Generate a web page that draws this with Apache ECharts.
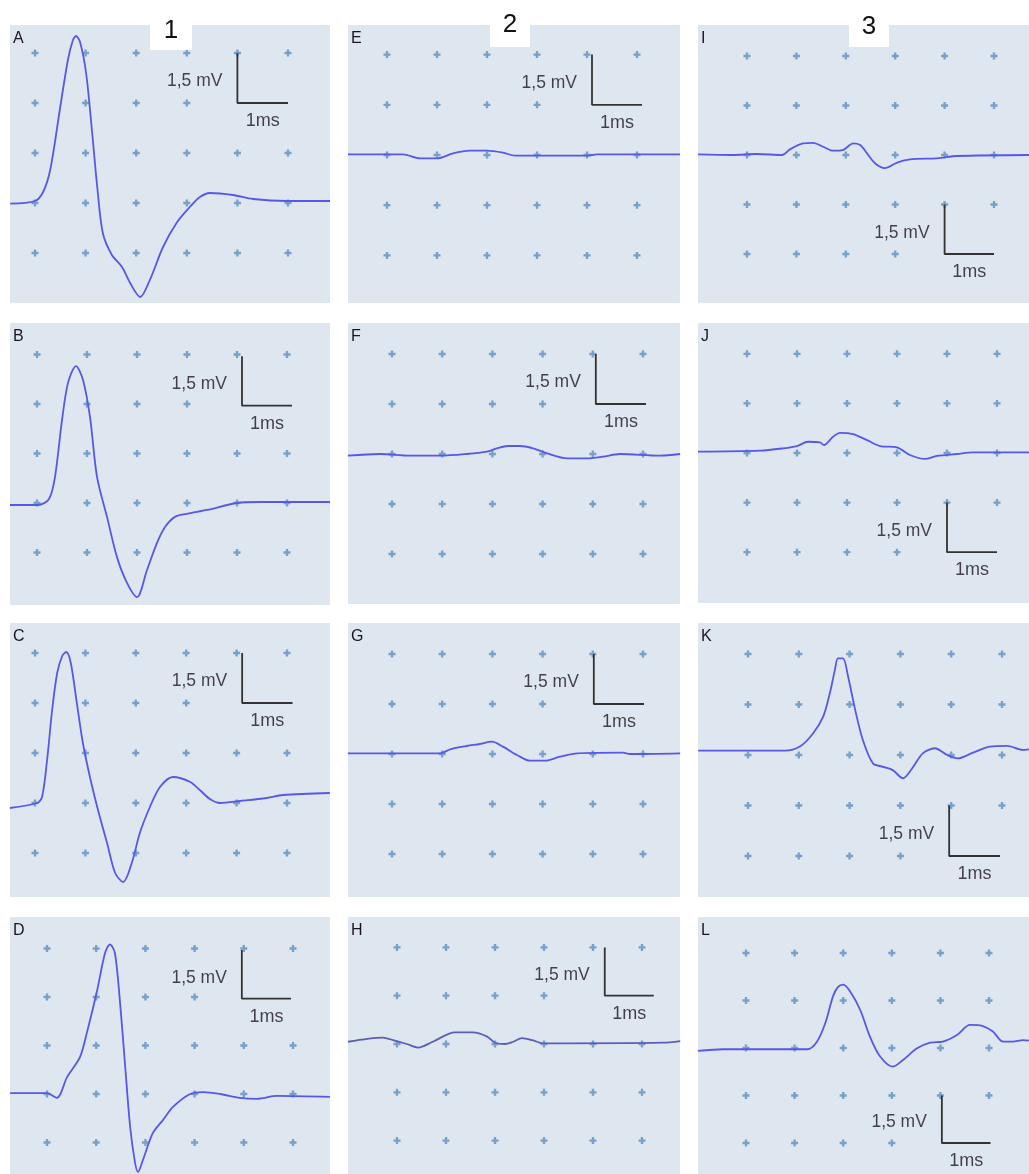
<!DOCTYPE html>
<html><head><meta charset="utf-8">
<script src="https://cdn.jsdelivr.net/npm/echarts@6/dist/echarts.min.js"></script>
<style>html,body{margin:0;padding:0;background:#fff;}#c{width:1029px;height:1174px;}</style>
</head><body><div id="c"></div>
<script>
// ---- data: time (ms) , potential (mV) ----
const traceA = [[0.51,-0.02],[1.0,0.06],[1.16,0.33],[1.30,0.99],[1.49,2.79],[1.65,4.29],[1.75,4.89],[1.81,5.01],[1.89,4.83],[2.01,3.90],[2.13,2.10],[2.23,0.48],[2.34,-0.90],[2.52,-1.56],[2.72,-1.92],[2.88,-2.40],[3.08,-2.82],[3.27,-2.31],[3.53,-1.32],[3.81,-0.57],[4.06,-0.12],[4.26,0.18],[4.46,0.30],[4.91,0.24],[5.31,0.12],[5.98,0.06],[6.83,0.06]];
const traceB = [[0.46,-0.06],[1.02,-0.06],[1.24,0.12],[1.36,0.79],[1.50,2.51],[1.62,3.64],[1.78,4.15],[1.92,3.73],[2.06,2.61],[2.20,0.79],[2.40,-0.42],[2.60,-1.64],[2.80,-2.42],[3.00,-2.85],[3.20,-2.03],[3.40,-1.21],[3.56,-0.73],[3.76,-0.42],[4.00,-0.33],[4.40,-0.21],[5.00,0.00],[5.46,0.03],[6.86,0.03]];
const traceC = [[0.50,-0.15],[1.04,0.00],[1.14,0.18],[1.24,1.29],[1.34,2.79],[1.44,3.90],[1.54,4.41],[1.62,4.53],[1.71,4.20],[1.83,3.00],[1.95,1.80],[2.09,0.78],[2.25,-0.21],[2.43,-1.20],[2.59,-2.10],[2.75,-2.37],[2.92,-1.80],[3.08,-0.90],[3.28,-0.12],[3.48,0.48],[3.74,0.78],[4.08,0.63],[4.27,0.39],[4.47,0.12],[4.67,0.00],[5.07,0.06],[5.60,0.15],[5.92,0.24],[6.85,0.30]];
const traceD = [[0.25,0.03],[1.00,0.03],[1.20,-0.12],[1.41,0.53],[1.67,1.14],[1.81,1.89],[2.02,3.21],[2.18,4.36],[2.28,4.63],[2.38,4.36],[2.48,2.91],[2.59,0.84],[2.69,-1.02],[2.79,-2.13],[2.85,-2.41],[2.95,-2.04],[3.15,-1.21],[3.36,-0.80],[3.56,-0.40],[3.91,0.00],[4.17,0.06],[4.52,0.00],[4.92,-0.12],[5.27,-0.15],[5.67,-0.06],[6.75,-0.09]];
const traceE = [[0.22,0.02],[1.32,0.02],[1.66,-0.10],[2.00,-0.10],[2.32,0.05],[2.66,0.13],[3.00,0.13],[3.32,0.07],[3.56,-0.02],[5.00,-0.02],[5.20,0.02],[6.86,0.02]];
const traceF = [[0.12,-0.05],[0.76,0.00],[1.36,-0.05],[1.96,-0.05],[2.49,0.00],[2.89,0.07],[3.09,0.17],[3.31,0.24],[3.55,0.24],[3.81,0.17],[4.09,0.02],[4.49,-0.13],[4.88,-0.13],[5.20,-0.08],[5.54,0.00],[6.34,-0.05],[6.74,0.00]];
const traceG = [[0.12,0.02],[1.96,0.02],[2.16,0.14],[2.49,0.24],[2.75,0.30],[2.99,0.37],[3.21,0.22],[3.49,-0.03],[3.75,-0.20],[4.05,-0.20],[4.35,-0.08],[4.69,0.02],[5.60,0.04],[5.74,0.00],[6.74,0.02]];
const traceH = [[0.00,0.07],[0.71,0.20],[0.92,0.12],[1.20,0.00],[1.43,-0.11],[1.73,0.07],[2.18,0.36],[2.55,0.36],[2.84,0.23],[3.00,0.04],[3.20,0.00],[3.37,0.07],[3.55,0.18],[3.76,0.12],[3.98,0.02],[6.43,0.04],[6.78,0.09]];
const traceI = [[0.01,0.02],[0.70,0.00],[1.20,0.03],[1.71,0.00],[1.87,0.17],[2.13,0.35],[2.34,0.37],[2.54,0.25],[2.74,0.13],[2.94,0.15],[3.15,0.35],[3.29,0.30],[3.43,0.05],[3.59,-0.25],[3.79,-0.40],[4.04,-0.23],[4.30,-0.13],[4.85,-0.10],[5.25,-0.03],[6.71,0.00]];
const traceJ = [[0.02,0.04],[1.26,0.07],[1.72,0.14],[2.00,0.21],[2.22,0.34],[2.46,0.32],[2.54,0.24],[2.72,0.49],[2.86,0.61],[3.12,0.57],[3.40,0.39],[3.66,0.21],[4.00,0.17],[4.26,-0.06],[4.56,-0.18],[4.80,-0.09],[5.20,-0.03],[5.52,0.02],[6.64,0.02]];
const traceK = [[0.02,0.13],[1.73,0.13],[2.02,0.25],[2.28,0.64],[2.48,1.14],[2.61,1.83],[2.71,2.52],[2.77,2.87],[2.87,2.87],[2.97,2.33],[3.11,1.34],[3.26,0.45],[3.46,-0.25],[3.66,-0.35],[3.85,-0.45],[4.05,-0.69],[4.23,-0.40],[4.44,0.05],[4.68,0.20],[4.92,0.00],[5.13,-0.10],[5.43,0.07],[5.76,0.25],[6.10,0.27],[6.41,0.15],[6.53,0.17]];
const traceL = [[0.01,-0.09],[0.53,-0.04],[2.26,-0.04],[2.46,0.20],[2.63,0.78],[2.79,1.63],[2.89,1.92],[3.00,2.00],[3.14,1.79],[3.35,1.20],[3.55,0.36],[3.76,-0.27],[4.02,-0.59],[4.23,-0.38],[4.52,-0.01],[4.79,0.17],[5.05,0.20],[5.34,0.41],[5.61,0.73],[5.86,0.70],[6.08,0.52],[6.29,0.20],[6.49,0.20],[6.70,0.25],[6.82,0.23]];

const panelLetters = ['A','B','C','D','E','F','G','H','I','J','K','L'];
const columnHeaders = ['1','2','3'];
const scaleBarMV = 1.5;      // vertical bar, mV
const scaleBarMS = 1;        // horizontal bar, ms
const scaleLabelV = '1,5 mV';
const scaleLabelT = '1ms';
const traces = [traceA,traceB,traceC,traceD,traceE,traceF,traceG,traceH,traceI,traceJ,traceK,traceL];

// ---- layout (pixels) ----
const layout = [
  {rect:[10,25,320,278],  cx:35,  sx:50.6, by:203,  sy:50,   bar:[5.0,4.5]},
  {rect:[10,323,320,282], cx:37,  sx:50,   by:503,  sy:49.5, bar:[5.1,4.45]},
  {rect:[10,623,320,274], cx:35,  sx:50.4, by:803,  sy:50,   bar:[5.11,4.5]},
  {rect:[10,917,320,257], cx:47,  sx:49.2, by:1094, sy:48.5, bar:[4.96,4.45]},
  {rect:[348,25,332,278], cx:387, sx:50,   by:155,  sy:50.2, bar:[5.1,3.0]},
  {rect:[348,323,332,281],cx:392, sx:50.2, by:454,  sy:50,   bar:[5.06,3.0]},
  {rect:[348,623,332,274],cx:392, sx:50.2, by:754,  sy:50,   bar:[5.02,3.0]},
  {rect:[348,917,332,257],cx:397, sx:49,   by:1044, sy:48.3, bar:[5.24,3.0]},
  {rect:[698,25,331,278], cx:747, sx:49.4, by:155,  sy:49.5, bar:[5.0,-1.5]},
  {rect:[698,323,331,280],cx:747, sx:50,   by:453,  sy:49.6, bar:[5.0,-1.5]},
  {rect:[698,623,331,274],cx:748, sx:50.8, by:755,  sy:50.5, bar:[4.96,-1.5]},
  {rect:[698,917,331,257],cx:746, sx:48.6, by:1048, sy:47.5, bar:[5.03,-1.5]}
];
const headerBoxes = [
  {x:150, w:42, bottom:50, cy:31},
  {x:490, w:40, bottom:47, cy:25},
  {x:849, w:40, bottom:47, cy:27}
];

const FONT = '"Liberation Sans", Arial, sans-serif';
const TEXT = '#1c1420';
const PLUS = 'path://M2,0H4V2H6V4H4V6H2V4H0V2H2Z';

const grids=[], xAxes=[], yAxes=[], series=[], graphics=[];
layout.forEach((L,i)=>{
  const [l,t,w,h]=L.rect;
  const xMin = 1-(L.cx-l)/L.sx, xMax = 1+(l+w-L.cx)/L.sx;
  const yMax = (L.by-t)/L.sy*scaleBarMV, yMin = -(t+h-L.by)/L.sy*scaleBarMV;
  grids.push({left:l,top:t,width:w,height:h,show:true,backgroundColor:'#dee6ef',borderWidth:0});
  xAxes.push({type:'value',gridIndex:i,min:xMin,max:xMax,show:false});
  yAxes.push({type:'value',gridIndex:i,min:yMin,max:yMax,show:false});
  const bx=L.bar[0], bt=L.bar[1];
  const crosses=[];
  for(let k=Math.ceil(xMin);k<=Math.floor(xMax);k++){
    for(let j=Math.ceil(yMin/scaleBarMV);j<=Math.floor(yMax/scaleBarMV);j++){
      const px=L.cx+(k-1)*L.sx, py=L.by-j*L.sy;
      if(px<l+4||px>l+w-4||py<t+4||py>t+h-4) continue;
      const yv=j*scaleBarMV;
      if(Math.abs(yv-(bt-scaleBarMV))<0.3 && (k===Math.round(bx)||k===Math.round(bx)+1)) continue;
      crosses.push([k,yv]);
    }
  }
  series.push({type:'scatter',xAxisIndex:i,yAxisIndex:i,data:crosses,symbol:PLUS,symbolSize:7,
    itemStyle:{color:'#5c8ec0'},silent:true,z:1,animation:false});
  series.push({type:'line',xAxisIndex:i,yAxisIndex:i,data:traces[i],showSymbol:false,smooth:0.3,
    lineStyle:{width:1.8,color: i===7?'#5d5db8':'#5757ec'},silent:true,z:3,animation:false});
  series.push({type:'line',xAxisIndex:i,yAxisIndex:i,
    data:[[bx,bt],[bx,bt-scaleBarMV],[bx+scaleBarMS,bt-scaleBarMV]],showSymbol:false,
    lineStyle:{width:1.8,color:'#333'},silent:true,z:4,animation:false});
  series.push({type:'scatter',xAxisIndex:i,yAxisIndex:i,symbolSize:0,silent:true,z:5,animation:false,
    data:[
      {value:[bx,bt-scaleBarMV*0.57],label:{show:true,position:'left',distance:15,formatter:scaleLabelV}},
      {value:[bx+scaleBarMS/2,bt-scaleBarMV],label:{show:true,position:'bottom',distance:9,formatter:scaleLabelT,fontSize:18}}
    ],
    label:{color:TEXT,fontSize:17.5,fontFamily:FONT}});
  graphics.push({type:'text',left:l+3,top:t+6,style:{text:panelLetters[i],fill:TEXT,font:'16px '+FONT},z:10});
});
headerBoxes.forEach((b,i)=>{
  graphics.push({type:'rect',shape:{x:b.x,y:0,width:b.w,height:b.bottom},style:{fill:'#fff'},z:20});
  graphics.push({type:'text',x:b.x+b.w/2,y:b.cy,style:{text:columnHeaders[i],fill:'#111',font:'26px '+FONT,align:'center',verticalAlign:'middle'},z:21});
});

const chart = echarts.init(document.getElementById('c'),null,{renderer:'canvas'});
chart.setOption({animation:false,grid:grids,xAxis:xAxes,yAxis:yAxes,series:series,graphic:graphics});
</script></body></html>
